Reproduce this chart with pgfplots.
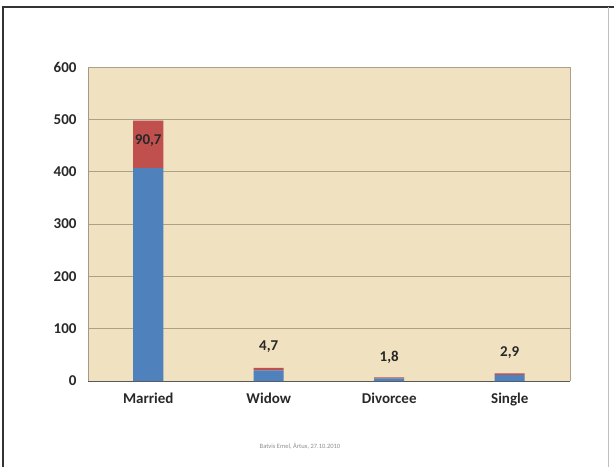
\documentclass[border=0pt]{standalone}
\usepackage{pgfplots}
\pgfplotsset{compat=1.18}
\usepackage{fontspec}
\setmainfont{Carlito}
\definecolor{bgc}{RGB}{240,225,192}
\definecolor{gridc}{RGB}{172,160,136}
\definecolor{xlblue}{RGB}{79,129,189}
\definecolor{xlred}{RGB}{192,80,77}
\definecolor{txt}{RGB}{40,40,40}
\begin{document}
\begin{tikzpicture}
\path[use as bounding box] (0pt,0pt) rectangle (614pt,467pt);
\draw[line width=2pt, black!80] (3pt,0pt) -- (3pt,460pt) -- (614pt,460pt);
\draw[line width=0.8pt, black!25] (608pt,460pt) -- (608pt,0pt);
\begin{axis}[
  at={(88pt,86pt)}, anchor=south west,
  scale only axis, width=482pt, height=314pt,
  xmin=-0.5, xmax=3.5, ymin=0, ymax=600,
  ybar stacked, bar width=30pt,
  xtick={0,1,2,3}, xticklabels={Married,Widow,Divorcee,Single},
  ytick={0,100,...,600},
  /pgf/number format/assume math mode=true,
  tick label style={font=\fontsize{15}{18}\selectfont\bfseries, text=txt},
  xticklabel style={yshift=-8pt},
  yticklabel style={xshift=-8pt},
  major tick length=0pt,
  ymajorgrids, grid style={gridc, line width=0.8pt},
  axis background/.style={fill=bgc},
  axis line style={draw=gridc!80!gray, line width=0.8pt},
  axis x line*=bottom,
  axis y line*=left,
  clip=false,
]
\addplot[fill=xlblue, draw=none] coordinates {(0,407) (1,20.3) (2,5.2) (3,11.6)};
\addplot[fill=xlred, draw=none] coordinates {(0,90.7) (1,4.7) (2,1.8) (3,2.9)};
\draw[gridc, line width=0.8pt] (axis cs:-0.5,600) -- (axis cs:3.5,600) -- (axis cs:3.5,0);
\draw[gray!70!black, line width=1pt] (axis cs:-0.5,0) -- (axis cs:3.5,0);
\coordinate (L0) at (axis cs:0,460);
\coordinate (L1) at (axis cs:1,65);
\coordinate (L2) at (axis cs:2,46);
\coordinate (L3) at (axis cs:3,53.5);
\end{axis}
\begin{scope}[every node/.style={font=\fontsize{15}{18}\selectfont\bfseries, text=txt}]
\node at (L0) {90,7};
\node at (L1) {4,7};
\node at (L2) {1,8};
\node at (L3) {2,9};
\end{scope}
\node[font=\fontsize{6.5}{8}\selectfont, text=black!45] at (300pt,21pt) {Batvis Emel, Ârtux, 27.10.2010};
\end{tikzpicture}
\end{document}
